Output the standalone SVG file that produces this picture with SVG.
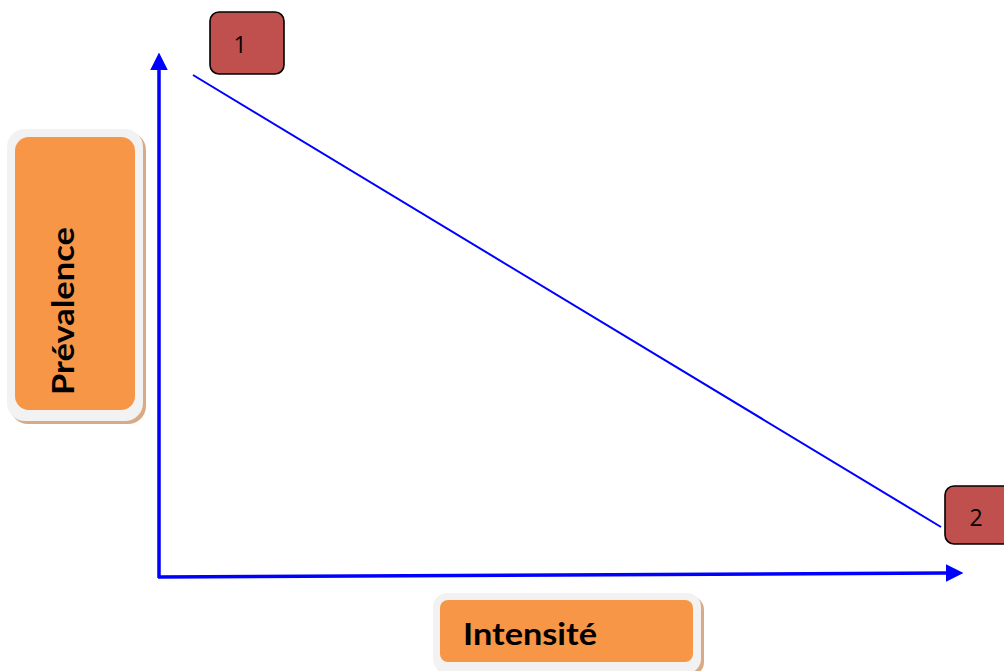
<svg xmlns="http://www.w3.org/2000/svg" width="1004" height="671" viewBox="0 0 1004 671">
<style>
.frame{fill:#F2F2F2}
.shadow{fill:#D9AA86}
.orange{fill:#F79646}
.lbl{font-family:Lato,"Open Sans","Liberation Sans",sans-serif;font-weight:bold;font-size:30px;fill:#000}
.num{fill:#C0504D;stroke:#000;stroke-width:1.6}
.numtxt{font-family:"Open Sans","Liberation Sans",sans-serif;font-size:23px;fill:#000;text-anchor:middle}
.axis{stroke:#0000FF;stroke-width:3.5;fill:none}
</style>
<defs>
<marker id="ah" markerWidth="5" markerHeight="5" refX="0" refY="2.5" orient="auto" markerUnits="strokeWidth">
<path d="M0,0 L5,2.5 L0,5 Z" fill="#0000FF"/>
</marker>
</defs>
<g id="connectors">
<line class="axis" x1="159" y1="578" x2="159" y2="70" marker-end="url(#ah)"/>
<line class="axis" x1="158" y1="577" x2="946" y2="573" marker-end="url(#ah)"/>
<line x1="193" y1="75" x2="941" y2="527" stroke="#0000FF" stroke-width="2"/>
</g>
<g id="prevalence">
<rect class="shadow" x="10" y="132" width="136" height="292" rx="18"/>
<rect class="frame" x="7" y="129" width="136" height="292" rx="18"/>
<rect class="orange" x="15" y="137" width="120" height="273" rx="14"/>
<text class="lbl" transform="translate(74,311) rotate(-90)" text-anchor="middle" textLength="168" lengthAdjust="spacingAndGlyphs">Prévalence</text>
</g>
<g id="intensite">
<rect class="shadow" x="436" y="596" width="268" height="80" rx="14"/>
<rect class="frame" x="433" y="593" width="268" height="80" rx="14"/>
<rect class="orange" x="440" y="600" width="253" height="62" rx="8"/>
<text class="lbl" x="463" y="645" textLength="134" lengthAdjust="spacingAndGlyphs">Intensité</text>
</g>
<g id="n1">
<rect class="num" x="210" y="12" width="74" height="62" rx="9"/>
<text class="numtxt" x="240" y="53">1</text>
</g>
<g id="n2">
<rect class="num" x="945" y="486" width="74" height="58" rx="9"/>
<text class="numtxt" x="976" y="526">2</text>
</g>
</svg>
